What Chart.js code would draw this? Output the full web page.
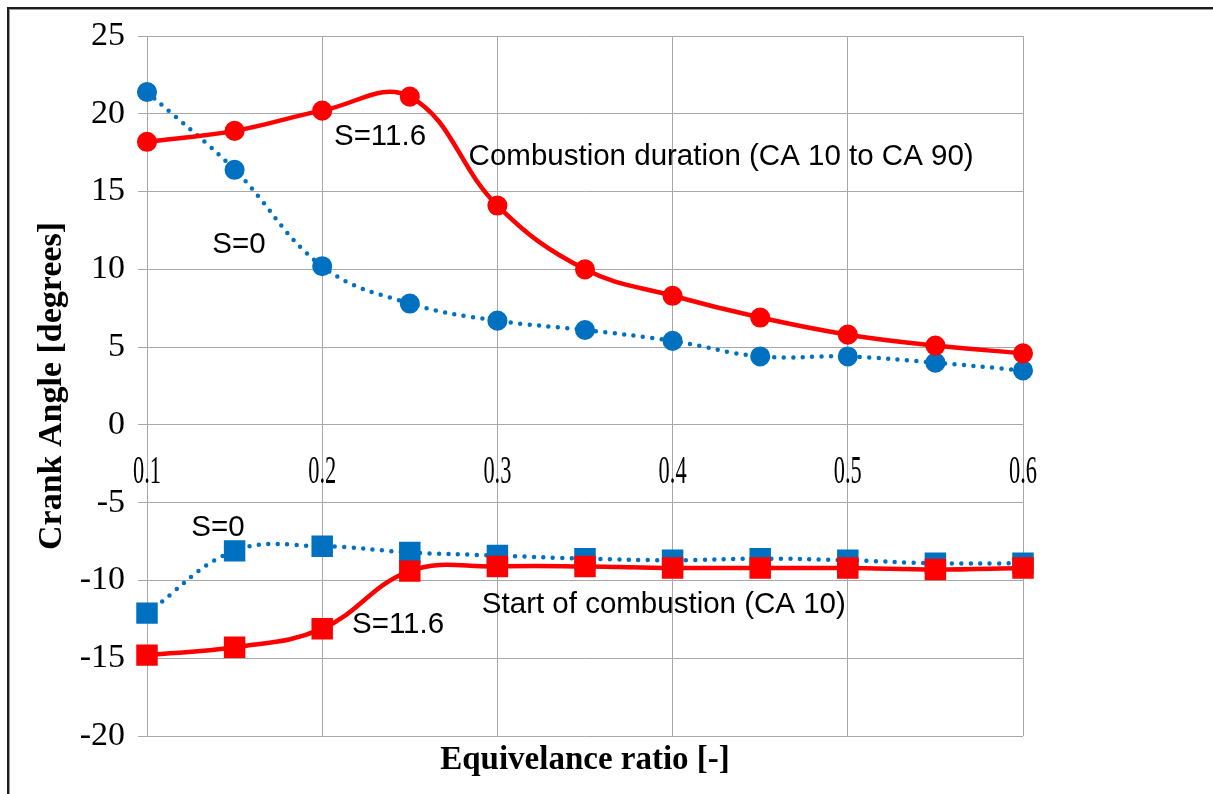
<!DOCTYPE html>
<html lang="en">
  <head>
    <meta charset="UTF-8" />
    <title>Crank angle vs equivalence ratio</title>
    <style>
      html, body { margin: 0; padding: 0; background: #fff; }
      #wrap { position: relative; width: 1213px; height: 794px; }
      #frame {
        position: absolute; left: 7px; top: 7px; right: 0; bottom: 0;
        border-top: 2px solid #1c1c1c; border-left: 2px solid #1c1c1c;
        box-shadow: inset 1px 1px 0 #9a9a9a; pointer-events: none;
      }
    </style>
  </head>
  <body>
    <div id="wrap">
      <canvas id="myChart" width="1213" height="794"></canvas>
      <div id="frame"></div>
    </div>

    <script src="https://cdn.jsdelivr.net/npm/chart.js"></script>
    <script>
      // equivalence ratio
      const phi = [0.1, 0.15, 0.2, 0.25, 0.3, 0.35, 0.4, 0.45, 0.5, 0.55, 0.6];

      // combustion duration, CA10 -> CA90
      const durationS0 = [21.4, 16.4, 10.2, 7.8, 6.7, 6.1, 5.4, 4.4, 4.4, 4.0, 3.5];
      const durationS116 = [18.2, 18.9, 20.2, 21.1, 14.1, 10.0, 8.3, 6.9, 5.8, 5.1, 4.6];

      // start of combustion, CA10
      const startS0 = [-12.1, -8.1, -7.8, -8.2, -8.4, -8.6, -8.7, -8.6, -8.7, -8.9, -8.9];
      const startS116 = [-14.8, -14.3, -13.1, -9.4, -9.1, -9.1, -9.2, -9.2, -9.2, -9.3, -9.2];

      const notes = [
        { text: "S=11.6", x: 0.233, y: 18.5 },
        { text: "Combustion duration (CA 10 to CA 90)", x: 0.4277, y: 17.2 },
        { text: "S=0", x: 0.1525, y: 11.6 },
        { text: "S=0", x: 0.1405, y: -6.6 },
        { text: "Start of combustion (CA 10)", x: 0.395, y: -11.6 },
        { text: "S=11.6", x: 0.2433, y: -12.85 },
      ];

      const RED = "#FF0000";
      const BLUE = "#0070C0";
      const GRID = "#a8a8a8";
      const SERIF = "'Liberation Serif', 'Times New Roman', serif";

      const pts = (ys) => ys.map((y, i) => ({ x: phi[i], y }));

      const solid = (data, style, r) => ({
        data: pts(data),
        borderColor: RED,
        backgroundColor: RED,
        borderWidth: 4.5,
        tension: 0.4,
        pointStyle: style,
        pointRadius: r,
        clip: false,
      });

      const dotted = (data, style, r) => ({
        data: pts(data),
        borderColor: BLUE,
        backgroundColor: BLUE,
        borderWidth: 4.5,
        borderDash: [0, 9.5],
        borderCapStyle: "round",
        tension: 0.4,
        pointStyle: style,
        pointRadius: r,
        clip: false,
      });

      // first dataset ends up drawn on top
      const datasets = [
        solid(startS116, "rect", 12),
        solid(durationS116, "circle", 7.8),
        dotted(startS0, "rect", 12),
        dotted(durationS0, "circle", 7.8),
      ];

      // x tick labels sit just under the zero line, in a narrow serif
      const xLabels = {
        id: "xLabels",
        afterDraw(chart) {
          const { ctx } = chart;
          const xs = chart.scales.x;
          const y0 = chart.scales.y.getPixelForValue(0) + 48;
          ctx.save();
          ctx.fillStyle = "#000";
          ctx.font = "40px " + SERIF;
          ctx.textAlign = "center";
          ctx.textBaseline = "middle";
          xs.ticks.forEach((t) => {
            ctx.save();
            ctx.translate(xs.getPixelForValue(t.value), y0);
            ctx.scale(0.56, 1);
            ctx.fillText(t.value.toFixed(1), 0, 0);
            ctx.restore();
          });
          ctx.restore();
        },
      };

      const noteLabels = {
        id: "noteLabels",
        afterDraw(chart) {
          const { ctx } = chart;
          const xs = chart.scales.x;
          const ys = chart.scales.y;
          ctx.save();
          ctx.fillStyle = "#000";
          ctx.font = "29.5px 'Liberation Sans'";
          ctx.textAlign = "center";
          ctx.textBaseline = "middle";
          notes.forEach((n) => {
            ctx.fillText(n.text, xs.getPixelForValue(n.x), ys.getPixelForValue(n.y));
          });
          ctx.restore();
        },
      };

      const config = {
        type: "line",
        data: { datasets },
        options: {
          responsive: false,
          animation: false,
          layout: {
            padding: { left: 18, right: 190, top: 36, bottom: 0 },
          },
          scales: {
            x: {
              type: "linear",
              position: { y: 0 },
              min: 0.1,
              max: 0.6,
              ticks: { stepSize: 0.1, display: false },
              grid: { color: GRID, drawTicks: false },
              border: { color: GRID },
            },
            // bottom axis only carries the title
            xTitle: {
              type: "linear",
              position: "bottom",
              axis: "x",
              min: 0.1,
              max: 0.6,
              ticks: { display: false },
              grid: { display: false, drawTicks: false },
              border: { display: false },
              title: {
                display: true,
                text: "Equivelance ratio [-]",
                color: "#000",
                font: { family: SERIF, size: 33, weight: "bold" },
                padding: { top: 4, bottom: 14 },
              },
              afterFit(scale) {
                scale.height = 58;
              },
            },
            y: {
              min: -20,
              max: 25,
              ticks: {
                stepSize: 5,
                color: "#000",
                padding: 13,
                font: { family: SERIF, size: 34 },
              },
              grid: { color: GRID, tickLength: 9 },
              border: { color: GRID },
              title: {
                display: true,
                text: "Crank Angle [degrees]",
                color: "#000",
                font: { family: SERIF, size: 34, weight: "bold" },
                padding: { top: 14, bottom: 0 },
              },
              afterFit(scale) {
                scale.width = 129;
              },
            },
          },
          plugins: {
            legend: { display: false },
            tooltip: { enabled: false },
          },
        },
        plugins: [xLabels, noteLabels],
      };

      const myChart = new Chart(document.getElementById("myChart"), config);
    </script>
  </body>
</html>
